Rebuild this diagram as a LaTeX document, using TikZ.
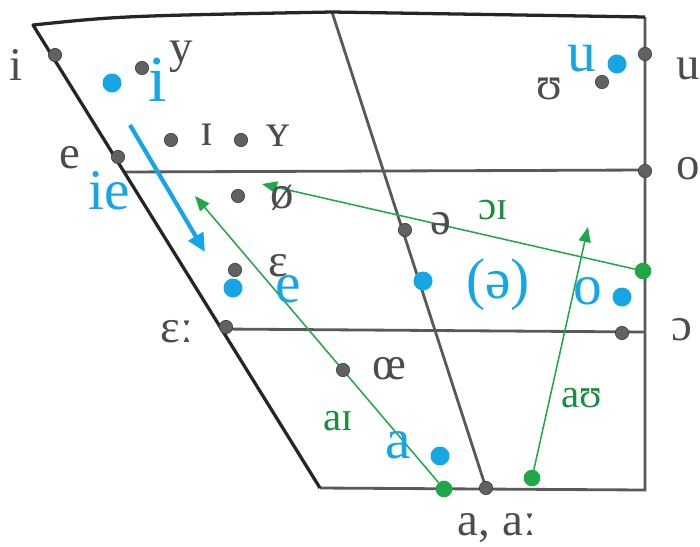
\documentclass[tikz,border=0pt]{standalone}
\usepackage{fontspec}
\setmainfont{Liberation Serif}
\usepackage{xcolor}
\usetikzlibrary{arrows.meta}

\definecolor{ipablue}{RGB}{22,166,230}
\definecolor{ipagreen}{RGB}{30,168,72}

\begin{document}
\begin{tikzpicture}[x=0.03cm, y=-0.03cm,
    frame/.style ={draw=black!85, line width=2.8pt, line join=round},
    grid/.style  ={draw=black!65, line width=2.4pt},
    gdot/.style  ={circle, fill=black!62, draw=black!78, line width=0.5pt, minimum size=0.4cm, inner sep=0pt},
    bdot/.style  ={circle, fill=ipablue, minimum size=0.57cm, inner sep=0pt},
    ndot/.style  ={circle, fill=ipagreen, minimum size=0.5cm, inner sep=0pt},
    glbl/.style  ={text=black!70, font=\fontsize{40}{44}\selectfont, inner sep=0pt},
    blbl/.style  ={text=ipablue, font=\fontsize{49}{53}\selectfont, inner sep=0pt},
    nlbl/.style  ={text=ipagreen!85!black, font=\fontsize{35}{40}\selectfont, inner sep=0pt},
    diph/.style  ={draw=ipagreen, line width=1.3pt, -{Triangle[length=0.45cm, width=0.36cm]}},
    glide/.style ={draw=ipablue, line width=3.6pt, -{Triangle[length=0.55cm, width=0.5cm]}}
]
\useasboundingbox (0,0) rectangle (700,546);

% Frame corners
\coordinate (tl) at (33,25);
\coordinate (mt) at (332,12);
\coordinate (tr) at (645,17);
\coordinate (br) at (645,490);
\coordinate (mb) at (486,488);
\coordinate (bl) at (320,488);

% Height lines
\coordinate (hl1) at (123,172);
\coordinate (hr1) at (645,170);
\coordinate (hl2) at (222,329);
\coordinate (hr2) at (645,332);

\draw[grid] (hl1) -- (hr1);
\draw[grid] (hl2) -- (hr2);
\draw[grid] (mt) -- (mb);
\draw[grid] (tr) -- (br) -- (bl);
\draw[frame] (bl) -- (tl) .. controls (120,16) .. (mt) -- (tr);

% Diphthong arrows (green)
\coordinate (aitip) at (195,196);
\coordinate (autip) at (588,227);
\coordinate (oitip) at (262,184);
\node[ndot] (gai) at (444,489) {};
\node[ndot] (gau) at (532,478) {};
\node[ndot] (goi) at (643,271) {};
\draw[diph] (gai) -- (aitip);
\draw[diph] (gau) -- (autip);
\draw[diph] (goi) -- (oitip);
\node[nlbl] (lai) at (338,421) {aɪ};
\node[nlbl] (lau) at (582,398) {aʊ};
\node[nlbl] (loi) at (493,210) {ɔɪ};

% Reference vowels (gray)
\node[gdot] (di)   at (55,55)   {};
\node[gdot] (dy)   at (142,68)  {};
\node[gdot] (dI)   at (171,140) {};
\node[gdot] (dY)   at (241,140) {};
\node[gdot] (de)   at (118,157) {};
\node[gdot] (doe)  at (238,196) {};
\node[gdot] (deps) at (235,270) {};
\node[gdot] (depl) at (226,327) {};
\node[gdot] (dOE)  at (343,370) {};
\node[gdot] (dsch) at (405,230) {};
\node[gdot] (da)   at (486,488) {};
\node[gdot] (dU)   at (602,82)  {};
\node[gdot] (du)   at (645,54)  {};
\node[gdot] (do)   at (645,171) {};
\node[gdot] (dop)  at (622,333) {};

\node[glbl] (li)   at (16,65)   {i};
\node[glbl] (ly)   at (181,57)  {y};
\node[glbl] (lI)   at (207,135) {ɪ};
\node[glbl] (lY)   at (278,136) {ʏ};
\node[glbl] (le)   at (70,158)  {e};
\node[glbl] (loe)  at (282,198) {ø};
\node[glbl] (leps) at (278,266) {ɛ};
\node[glbl] (lepl) at (177,332) {ɛː};
\node[glbl] (lOE)  at (389,369) {œ};
\node[glbl] (lsch) at (441,224) {ə};
\node[glbl] (la)   at (497,528) {a, aː};
\node[glbl] (lU)   at (549,89)  {ʊ};
\node[glbl] (lu)   at (688,69)  {u};
\node[glbl] (lo)   at (688,169) {o};
\node[glbl] (lop)  at (682,330) {ɔ};

% Measured vowels (blue)
\coordinate (gs) at (130,125);
\coordinate (ge) at (205,252);
\draw[glide] (gs) -- (ge);
\node[bdot] (bi)   at (112,83)  {};
\node[bdot] (be)   at (233,288) {};
\node[bdot] (bsch) at (423,281) {};
\node[bdot] (ba)   at (440,456) {};
\node[bdot] (bo)   at (622,297) {};
\node[bdot] (bu)   at (617,64)  {};

\node[blbl, font=\fontsize{56}{60}\selectfont] (tbi) at (158,80) {i};
\node[blbl] (tbie)  at (109,191) {ie};
\node[blbl] (tbe)   at (288,289) {e};
\node[blbl] (tbsch) at (498,285) {(ə)};
\node[blbl] (tba)   at (398,445) {a};
\node[blbl] (tbo)   at (588,291) {o};
\node[blbl] (tbu)   at (582,59)  {u};
\end{tikzpicture}
\end{document}
